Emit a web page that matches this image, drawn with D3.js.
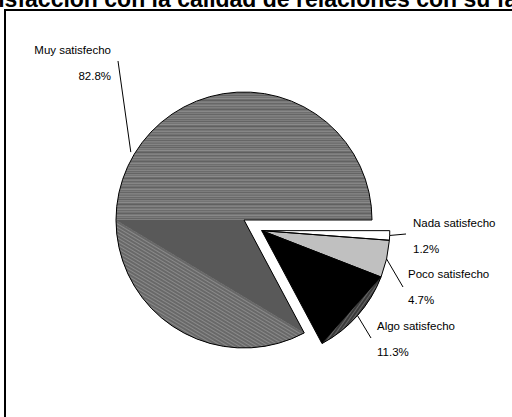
<!DOCTYPE html>
<html>
<head>
<meta charset="utf-8">
<script src="https://cdn.jsdelivr.net/npm/d3@7"></script>
<style>
  body { margin: 0; background: #fff; }
  text { font-family: "Liberation Sans", Arial, sans-serif; }
</style>
</head>
<body>
<div id="chart"></div>
<script>
// Data
const categories = ["Nada satisfecho", "Poco satisfecho", "Algo satisfecho", "Muy satisfecho"];
const percents = [1.2, 4.7, 11.3, 82.8];
const pctLabels = ["1.2%", "4.7%", "11.3%", "82.8%"];
const title = "Satisfacción con la calidad de relaciones con su familia";

// Layout
const width = 512, height = 417;
const cx = 244, cy = 220, radius = 128;
const explode = 20.7;
const sliceFills = ["#ffffff", "#c0c0c0", "#000000", "url(#stripes)"];
// label anchor (where leader starts) and text placement
const labelLayout = [
  { lx: 406, ly: 234, tx: 413, ty: 227, anchor: "start" },
  { lx: 403, ly: 287, tx: 408, ty: 278, anchor: "start" },
  { lx: 371, ly: 338, tx: 377, ty: 330, anchor: "start" },
  { lx: 118, ly: 61, tx: 111, ty: 54, anchor: "end" }
];

const svg = d3.select("#chart").append("svg")
    .attr("width", width)
    .attr("height", height);

const defs = svg.append("defs");

// horizontal streak texture for the big slice
const stripeShades = [120, 112, 132, 106, 124, 100, 128, 116, 138, 110, 96, 122, 130, 104, 118, 134, 108, 126, 114, 98, 120, 136, 110, 124, 102, 128];
const stripes = defs.append("pattern")
    .attr("id", "stripes")
    .attr("patternUnits", "userSpaceOnUse")
    .attr("width", width)
    .attr("height", stripeShades.length);
stripes.selectAll("rect")
    .data(stripeShades)
    .join("rect")
    .attr("x", 0)
    .attr("y", (d, i) => i)
    .attr("width", width)
    .attr("height", 1)
    .attr("fill", d => d3.rgb(d, d, d));

// fine oblique lines for the chord segments
function linePattern(id, angle, base, line) {
    const p = defs.append("pattern")
        .attr("id", id)
        .attr("patternUnits", "userSpaceOnUse")
        .attr("width", 8)
        .attr("height", 3)
        .attr("patternTransform", `rotate(${angle})`);
    p.append("rect").attr("width", 8).attr("height", 3).attr("fill", base);
    p.append("rect").attr("y", 2).attr("width", 8).attr("height", 1).attr("fill", line);
}
linePattern("fine", 31, "#686868", "#8a8a8a");
linePattern("darkfine", -55, "#3a3a3a", "#666666");

// Frame
svg.append("rect")
    .attr("x", 5)
    .attr("y", 10)
    .attr("width", 700)
    .attr("height", 600)
    .attr("fill", "none")
    .attr("stroke", "#000")
    .attr("stroke-width", 2);

// Title (clipped at top as in the original)
svg.append("text")
    .attr("x", 266)
    .attr("y", 7)
    .attr("text-anchor", "middle")
    .style("font-size", "23px")
    .style("font-weight", "bold")
    .text(title);

const pie = d3.pie()
    .sort(null)
    .value(d => d)
    .startAngle(Math.PI / 2)
    .endAngle(Math.PI / 2 + 2 * Math.PI);

const arcs = pie(percents);
const arc = d3.arc().innerRadius(0).outerRadius(radius);

// explode the three small slices as a group
const groupStart = arcs[0].startAngle;
const groupEnd = arcs[2].endAngle;
const groupMid = (groupStart + groupEnd) / 2;
const offsets = arcs.map((a, i) => i < 3
    ? [explode * Math.sin(groupMid), -explode * Math.cos(groupMid)]
    : [0, 0]);

const g = svg.append("g").attr("transform", `translate(${cx},${cy})`);

g.selectAll("path.slice")
    .data(arcs)
    .join("path")
    .attr("class", "slice")
    .attr("transform", (d, i) => `translate(${offsets[i]})`)
    .attr("d", arc)
    .attr("fill", (d, i) => sliceFills[i]);

// texture layers: the segment between chord and arc is rendered with lines
const pt = a => [radius * Math.sin(a), -radius * Math.cos(a)];
const segment = (a0, a1) => {
    const p0 = pt(a0), p1 = pt(a1);
    const large = (a1 - a0) > Math.PI ? 1 : 0;
    return `M${p0}A${radius},${radius} 0 ${large} 1 ${p1}Z`;
};

const big = arcs[3];
const pEnd = pt(big.startAngle);
const leftAngle = Math.PI * 1.5;
g.append("path")
    .attr("d", segment(big.startAngle, leftAngle))
    .attr("fill", "url(#fine)");
g.append("path")
    .attr("d", `M0,0L${pEnd}L${pt(leftAngle)}Z`)
    .attr("fill", "#595959");

const algo = arcs[2];
g.append("path")
    .attr("transform", `translate(${offsets[2]})`)
    .attr("d", segment(algo.startAngle, algo.endAngle))
    .attr("fill", "url(#darkfine)");

// outlines
g.selectAll("path.outline")
    .data(arcs)
    .join("path")
    .attr("class", "outline")
    .attr("transform", (d, i) => `translate(${offsets[i]})`)
    .attr("d", arc)
    .attr("fill", "none")
    .attr("stroke", "#000")
    .attr("stroke-width", 1);

// leader lines and labels
arcs.forEach((a, i) => {
    const mid = (a.startAngle + a.endAngle) / 2;
    const r = i === 3 ? radius + 4 : radius;
    const ex = cx + offsets[i][0] + r * Math.sin(mid);
    const ey = cy + offsets[i][1] - r * Math.cos(mid);
    const L = labelLayout[i];
    svg.append("line")
        .attr("x1", L.lx).attr("y1", L.ly)
        .attr("x2", ex).attr("y2", ey)
        .attr("stroke", "#000")
        .attr("stroke-width", 1);
    svg.append("text")
        .attr("x", L.tx).attr("y", L.ty)
        .attr("text-anchor", L.anchor)
        .style("font-size", "11.5px")
        .text(categories[i]);
    svg.append("text")
        .attr("x", L.tx).attr("y", L.ty + 25.5)
        .attr("text-anchor", L.anchor)
        .style("font-size", "11.5px")
        .text(pctLabels[i]);
});
</script>
</body>
</html>
